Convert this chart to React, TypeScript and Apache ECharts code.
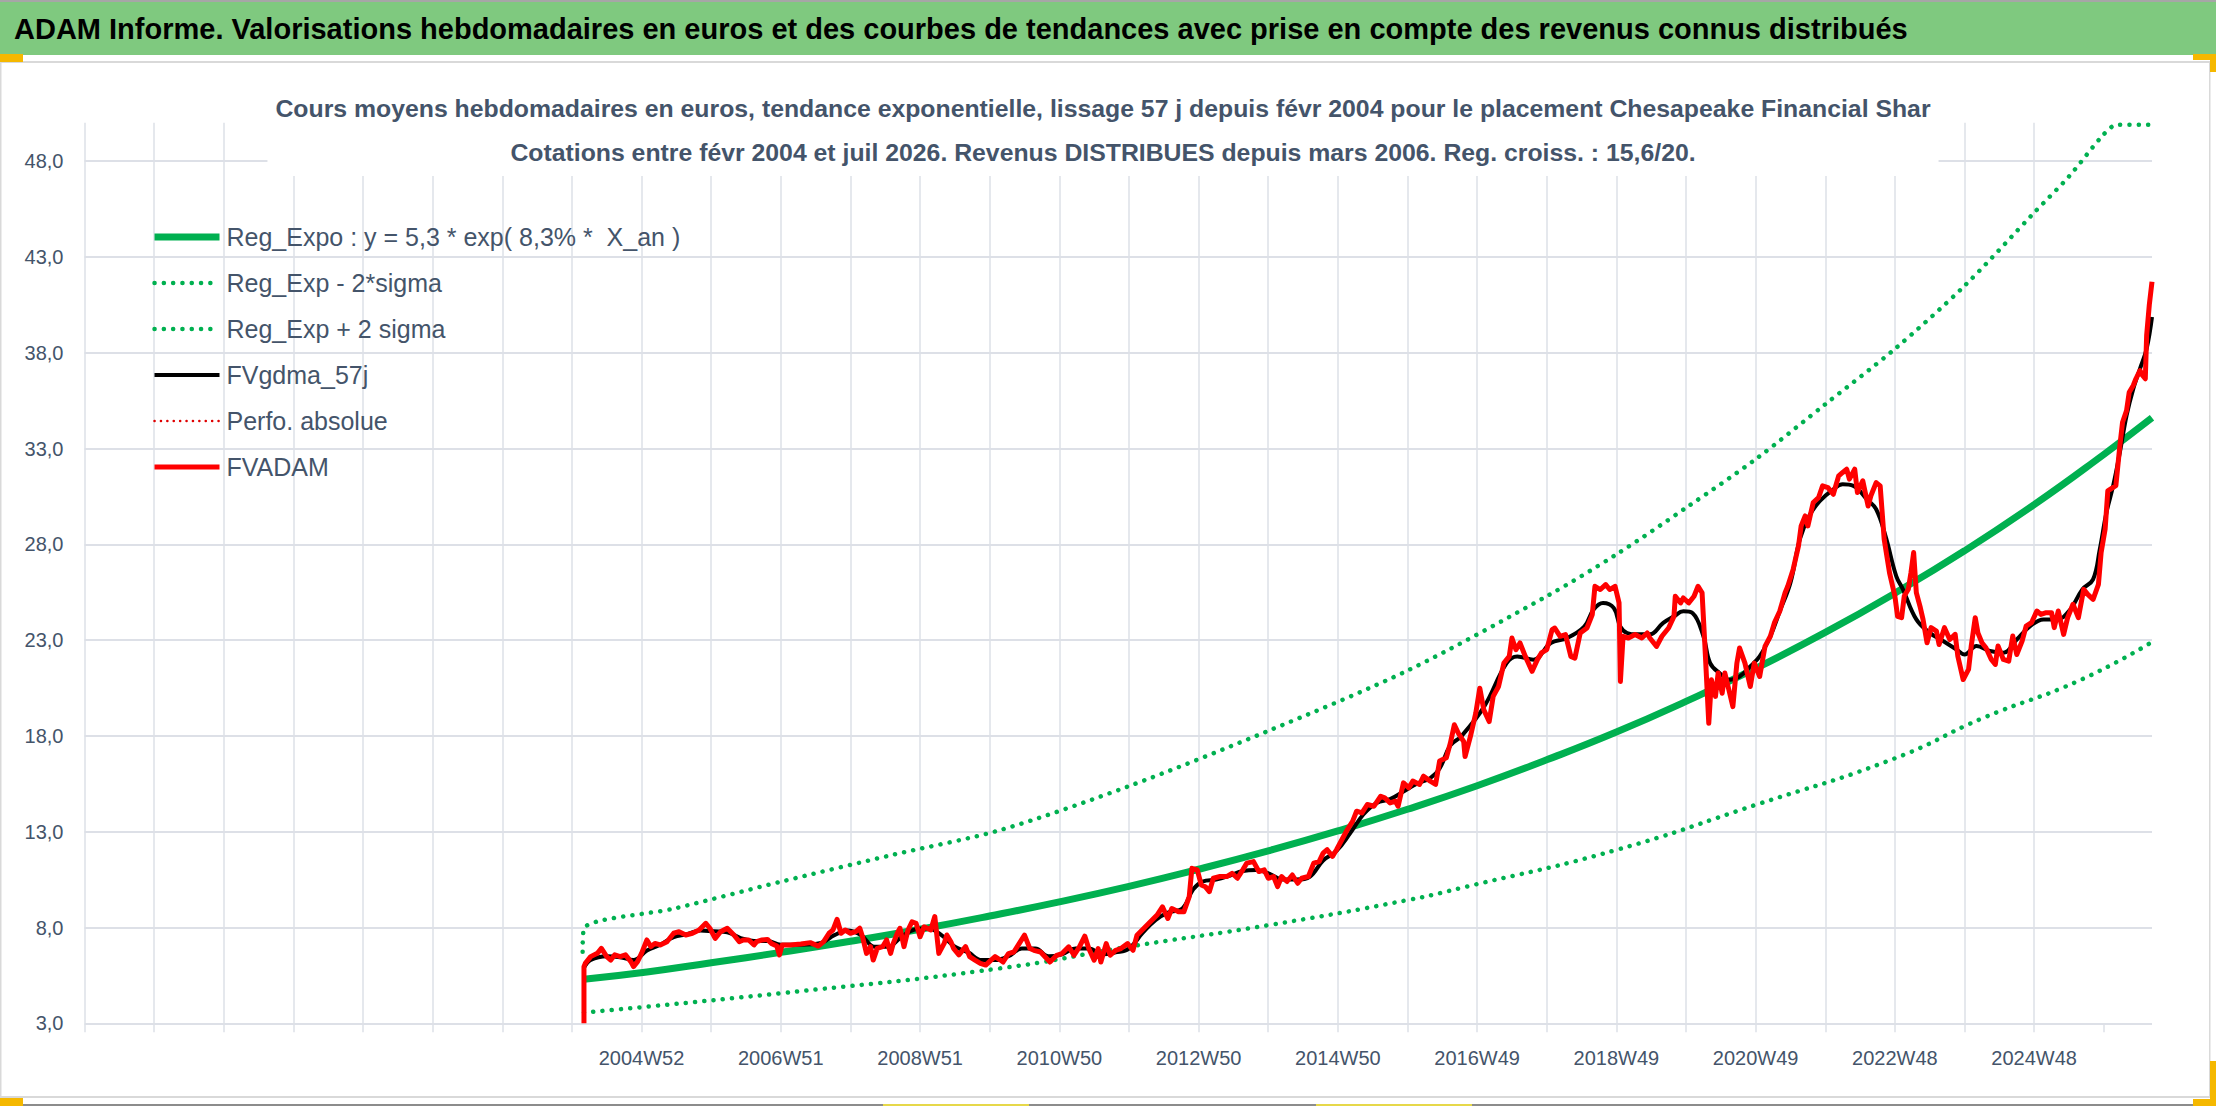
import React, { useEffect, useRef } from 'react'
import * as echarts from 'echarts'

// x = index of the week on the category scale (one grid step = 52 weeks)
const xTickLabels = ['2004W52', '2006W51', '2008W51', '2010W50', '2012W50', '2014W50', '2016W49', '2018W49', '2020W49', '2022W48', '2024W48']
const xLabelWeeks = xTickLabels.map((_, i) => 416 + i * 104)
const xTickWeeks = Array.from({ length: 30 }, (_, i) => i * 52)
const yTicks = [3, 8, 13, 18, 23, 28, 33, 38, 43, 48]

const legendNames = [
  'Reg_Expo : y = 5,3 * exp( 8,3% *  X_an )',
  'Reg_Exp - 2*sigma',
  'Reg_Exp + 2 sigma',
  'FVgdma_57j',
  'Perfo. absolue',
  'FVADAM'
]

const regExpo: [number, number][] = [
  [373, 5.3], [420, 5.68], [468, 6.16], [520, 6.7], [572, 7.28], [624, 7.91], [676, 8.6],
  [728, 9.34], [780, 10.15], [832, 11.04], [884, 12.0], [936, 13.04], [988, 14.17], [1040, 15.4],
  [1092, 16.75], [1144, 18.2], [1196, 19.8], [1248, 21.52], [1300, 23.4], [1352, 25.45],
  [1404, 27.66], [1456, 30.07], [1508, 32.69], [1544, 34.6]
]

const regMinus: [number, number][] = [
  [373, 3.56], [520, 4.57], [684, 5.87], [780, 7.0], [884, 8.12], [988, 9.43], [1032, 10.13],
  [1144, 12.05], [1248, 14.4], [1352, 16.83], [1418, 18.94], [1490, 20.9], [1544, 22.9]
]

const regPlus: [number, number][] = [
  [372, 6.74], [373, 7.96], [441, 9.0], [520, 10.39], [604, 11.8], [684, 13.09], [780, 15.38],
  [884, 18.26], [988, 21.41], [1092, 25.29], [1144, 27.47], [1198, 30.0], [1248, 32.44],
  [1300, 35.31], [1352, 38.2], [1404, 41.49], [1456, 45.31], [1482, 47.2], [1508, 49.4], [1518, 49.9], [1544, 49.9]
]

const fvgdma: [number, number][] = [
  [373, 5.9], [378, 6.3], [390, 6.5], [400, 6.45], [410, 6.3], [420, 6.8], [430, 7.1], [440, 7.5],
  [450, 7.65], [460, 7.85], [470, 7.8], [480, 7.75], [490, 7.45], [500, 7.3], [510, 7.3], [520, 7.1],
  [535, 7.1], [550, 7.2], [560, 7.6], [570, 7.85], [580, 7.6], [590, 7.0], [600, 7.0], [610, 7.5],
  [620, 7.9], [630, 7.95], [640, 7.6], [650, 7.0], [660, 6.7], [670, 6.3], [680, 6.3], [690, 6.5],
  [700, 6.9], [710, 6.9], [720, 6.5], [730, 6.6], [740, 6.9], [750, 6.9], [760, 6.6], [770, 6.7],
  [780, 6.9], [790, 7.7], [800, 8.4], [810, 8.8], [820, 9.0], [828, 10.0], [835, 10.4], [845, 10.5],
  [855, 10.7], [865, 10.95], [875, 11.0], [885, 10.8], [895, 10.5], [905, 10.5], [915, 10.65],
  [925, 11.5], [935, 12.0], [945, 12.9], [955, 13.9], [965, 14.5], [975, 14.7], [985, 15.1],
  [995, 15.5], [1005, 15.8], [1012, 16.3], [1020, 17.5], [1028, 17.97], [1045, 19.5], [1062, 21.8],
  [1070, 22.15], [1082, 21.98], [1095, 22.85], [1107, 23.1], [1120, 23.7], [1127, 24.6], [1134, 24.94],
  [1142, 24.68], [1147, 23.7], [1152, 23.37], [1159, 23.3], [1169, 23.3], [1179, 23.9], [1187, 24.24],
  [1194, 24.5], [1201, 24.4], [1209, 23.2], [1214, 21.8], [1221, 21.28], [1229, 20.93], [1236, 21.1],
  [1244, 21.63], [1251, 22.15], [1259, 23.2], [1266, 24.5], [1274, 26.0], [1281, 28.26], [1288, 29.48],
  [1296, 30.26], [1306, 30.87], [1313, 31.13], [1321, 31.05], [1331, 30.35], [1338, 29.83], [1345, 28.43],
  [1353, 26.34], [1358, 25.65], [1368, 24.08], [1378, 23.38], [1388, 22.95], [1398, 22.51], [1404, 22.25],
  [1413, 22.69], [1423, 22.43], [1433, 22.34], [1443, 23.03], [1453, 23.73], [1463, 24.08], [1473, 24.08],
  [1483, 24.6], [1492, 25.65], [1500, 26.17], [1505, 27.74], [1510, 29.66], [1515, 31.06], [1520, 32.8],
  [1525, 34.72], [1530, 36.11], [1535, 37.16], [1540, 38.21], [1544, 39.86]
]

const fvadam: [number, number][] = [
  [373, 3.0], [373, 5.96], [374, 6.13], [378, 6.48], [383, 6.65], [386, 6.91], [390, 6.48], [393, 6.3],
  [396, 6.57], [400, 6.48], [404, 6.57], [408, 6.22], [410, 5.96], [413, 6.22], [416, 6.65], [420, 7.35],
  [423, 7.0], [426, 7.17], [430, 7.09], [435, 7.26], [440, 7.7], [444, 7.78], [449, 7.61], [454, 7.7],
  [459, 7.87], [464, 8.22], [467, 7.96], [471, 7.43], [475, 7.78], [480, 7.96], [485, 7.61], [489, 7.26],
  [492, 7.35], [496, 7.35], [500, 7.09], [502, 7.26], [506, 7.35], [510, 7.38], [513, 7.17], [517, 7.03],
  [519, 6.57], [521, 7.09], [527, 7.09], [535, 7.14], [542, 7.21], [548, 7.03], [552, 7.26], [556, 7.7],
  [559, 7.87], [562, 8.43], [565, 7.7], [568, 7.87], [572, 7.7], [576, 7.78], [579, 7.96], [581, 7.52],
  [584, 6.65], [587, 7.0], [589, 6.3], [592, 6.91], [596, 7.0], [599, 7.35], [602, 6.65], [604, 7.17],
  [607, 7.7], [609, 7.96], [612, 7.0], [615, 7.87], [618, 8.3], [621, 8.22], [624, 7.52], [627, 8.04],
  [632, 7.87], [635, 8.57], [638, 6.65], [642, 7.17], [644, 7.61], [647, 7.26], [649, 6.91], [653, 6.57],
  [658, 7.0], [661, 6.48], [665, 6.3], [669, 6.13], [673, 6.04], [677, 6.3], [680, 6.48], [684, 6.3],
  [686, 6.2], [690, 6.64], [694, 6.72], [698, 7.16], [702, 7.6], [706, 6.9], [709, 6.81], [714, 6.72],
  [721, 6.2], [726, 6.55], [730, 6.64], [735, 6.99], [739, 6.55], [743, 6.99], [747, 7.55], [750, 6.9],
  [754, 6.29], [757, 6.9], [759, 6.2], [763, 7.16], [766, 6.55], [770, 6.81], [774, 6.9], [779, 7.16],
  [783, 6.81], [786, 7.6], [791, 7.95], [796, 8.3], [801, 8.65], [805, 9.08], [809, 8.47], [812, 8.99],
  [817, 8.82], [821, 8.82], [825, 9.61], [827, 11.09], [831, 11.01], [834, 10.22], [837, 10.13],
  [840, 9.87], [843, 10.57], [848, 10.66], [853, 10.66], [857, 10.83], [861, 10.57], [865, 11.01],
  [868, 11.36], [873, 11.44], [877, 10.92], [881, 11.01], [884, 10.57], [888, 10.66], [891, 10.13],
  [894, 10.66], [898, 10.4], [902, 10.74], [906, 10.31], [909, 10.57], [914, 10.66], [918, 11.36],
  [922, 11.44], [925, 11.88], [928, 12.06], [932, 11.71], [935, 12.06], [939, 12.58], [943, 13.1],
  [947, 13.54], [950, 14.07], [954, 13.98], [958, 14.42], [963, 14.33], [968, 14.85], [971, 14.77],
  [975, 14.5], [979, 14.59], [981, 14.33], [985, 15.55], [989, 15.29], [992, 15.64], [997, 15.47],
  [1000, 15.9], [1005, 15.64], [1009, 15.47], [1012, 16.69], [1017, 16.86], [1020, 17.62], [1023, 18.58],
  [1026, 18.14], [1030, 17.7], [1031, 16.92], [1035, 17.97], [1039, 19.19], [1042, 20.49], [1045, 19.36],
  [1049, 18.75], [1052, 20.06], [1056, 20.58], [1060, 21.8], [1064, 22.15], [1066, 23.11], [1069, 22.5],
  [1072, 22.85], [1076, 22.15], [1081, 21.37], [1085, 21.98], [1088, 22.33], [1092, 22.5], [1096, 23.55],
  [1098, 23.63], [1102, 23.2], [1106, 23.29], [1110, 22.15], [1113, 22.06], [1117, 23.37], [1122, 23.63],
  [1126, 24.33], [1128, 25.81], [1132, 25.64], [1136, 25.9], [1139, 25.64], [1143, 25.81], [1146, 24.94],
  [1147, 20.84], [1149, 23.2], [1153, 23.11], [1158, 23.29], [1163, 23.11], [1167, 23.37], [1169, 23.11],
  [1174, 22.67], [1178, 23.2], [1183, 23.63], [1187, 24.24], [1188, 25.29], [1192, 24.94], [1194, 25.2],
  [1198, 24.94], [1202, 25.29], [1205, 25.81], [1208, 25.47], [1210, 22.85], [1213, 18.66], [1215, 20.93],
  [1218, 20.06], [1220, 21.28], [1223, 20.23], [1225, 21.28], [1228, 20.41], [1231, 19.53], [1234, 21.8],
  [1236, 22.59], [1240, 21.8], [1244, 20.58], [1247, 21.8], [1251, 21.1], [1255, 22.67], [1259, 23.2],
  [1262, 23.9], [1266, 24.51], [1270, 25.47], [1272, 25.81], [1276, 26.69], [1280, 27.91], [1282, 28.96],
  [1285, 29.48], [1287, 28.96], [1291, 30.18], [1295, 30.44], [1298, 31.05], [1302, 30.96], [1306, 30.61],
  [1310, 31.57], [1313, 31.75], [1316, 31.92], [1318, 31.4], [1322, 31.92], [1324, 30.7], [1328, 31.31],
  [1332, 30.0], [1334, 30.52], [1338, 31.22], [1341, 31.05], [1344, 28.26], [1348, 26.51], [1352, 25.29],
  [1354, 24.24], [1357, 24.17], [1359, 25.3], [1362, 25.65], [1364, 26.52], [1366, 27.57], [1368, 25.48],
  [1371, 24.69], [1373, 24.08], [1376, 22.86], [1379, 23.65], [1383, 23.47], [1385, 22.77], [1389, 23.65],
  [1393, 23.03], [1397, 23.3], [1399, 22.16], [1403, 20.94], [1407, 21.47], [1409, 22.69], [1412, 24.17],
  [1414, 23.38], [1417, 22.86], [1420, 22.6], [1424, 21.99], [1427, 21.73], [1429, 22.69], [1433, 21.99],
  [1437, 21.9], [1440, 23.21], [1443, 22.25], [1447, 22.95], [1450, 23.73], [1454, 23.91], [1458, 24.52],
  [1461, 24.34], [1465, 24.43], [1469, 24.43], [1471, 23.65], [1474, 24.52], [1478, 23.3], [1481, 24.17],
  [1485, 24.87], [1489, 24.17], [1493, 25.65], [1496, 25.39], [1500, 25.13], [1504, 25.91], [1506, 27.57],
  [1509, 28.79], [1511, 30.79], [1515, 30.97], [1517, 31.06], [1520, 33.15], [1522, 34.37], [1525, 34.98],
  [1527, 35.94], [1530, 36.29], [1532, 36.64], [1535, 37.07], [1537, 36.81], [1539, 36.64], [1540, 38.9],
  [1542, 40.5], [1544, 41.7]
]

const headerText = 'ADAM Informe. Valorisations hebdomadaires en euros et des courbes de tendances avec prise en compte des revenus connus distribués'
const titleLine1 = 'Cours moyens hebdomadaires en euros, tendance exponentielle, lissage 57 j depuis févr 2004 pour le placement Chesapeake Financial Shar'
const titleLine2 = 'Cotations entre févr 2004 et juil 2026. Revenus DISTRIBUES depuis mars 2006. Reg. croiss. : 15,6/20.'

const FONT = '"Liberation Sans", Arial, sans-serif'
const TEXT = '#44546a'
const GRID = '#dde0e7'
const GREEN = '#00b050'
const RED = '#ff0000'

const App: React.FC = () => {
  const chartRef = useRef<HTMLDivElement>(null)

  useEffect(() => {
    if (!chartRef.current) return
    const chart = echarts.init(chartRef.current, undefined, { renderer: 'svg' })

    const option = {
      animation: false,
      backgroundColor: '#ffffff',
      textStyle: { fontFamily: FONT },
      title: {
        text: titleLine1 + '\n' + titleLine2,
        left: 1095,
        top: 64,
        padding: [22, 8, 2, 8],
        backgroundColor: '#ffffff',
        textAlign: 'center',
        textStyle: { color: TEXT, fontSize: 24.8, fontWeight: 'bold', lineHeight: 44, fontFamily: FONT }
      },
      legend: {
        orient: 'vertical',
        left: 151,
        top: 222,
        padding: 0,
        itemWidth: 65,
        itemHeight: 14,
        itemGap: 16,
        selectedMode: false,
        data: legendNames,
        itemStyle: { opacity: 0 },
        lineStyle: { width: 'inherit' },
        textStyle: { color: TEXT, fontSize: 25, lineHeight: 30, fontFamily: FONT, padding: [0, 0, 0, 2] }
      },
      grid: {
        left: 84.5,
        right: 64,
        top: 122.8,
        bottom: 82.7,
        containLabel: false,
        outerBoundsMode: 'none'
      },
      xAxis: {
        type: 'value',
        min: 0,
        max: 1544,
        interval: 52,
        axisLine: { show: false },
        axisTick: {
          show: true,
          length: 9,
          customValues: xTickWeeks,
          lineStyle: { color: GRID, width: 1.5 }
        },
        axisLabel: {
          customValues: xLabelWeeks,
          margin: 25,
          color: TEXT,
          fontSize: 20,
          fontFamily: FONT,
          formatter: (v: number) => {
            const i = xLabelWeeks.indexOf(v)
            return i >= 0 ? xTickLabels[i] : ''
          }
        },
        splitLine: {
          show: true,
          showMinLine: true,
          showMaxLine: false,
          lineStyle: { color: GRID, width: 1.5 }
        }
      },
      yAxis: {
        type: 'value',
        min: 3,
        max: 50,
        interval: 5,
        axisLine: { show: false },
        axisTick: { show: false },
        axisLabel: {
          customValues: yTicks,
          margin: 21,
          color: TEXT,
          fontSize: 20,
          fontFamily: FONT,
          formatter: (v: number) => (v > 49 ? '' : v.toFixed(1).replace('.', ','))
        },
        splitLine: {
          show: true,
          showMaxLine: false,
          lineStyle: { color: GRID, width: 2 }
        }
      },
      series: [
        {
          name: legendNames[0],
          type: 'line',
          data: regExpo,
          smooth: true,
          symbol: 'none',
          lineStyle: { color: GREEN, width: 7 }
        },
        {
          name: legendNames[1],
          type: 'line',
          data: regMinus,
          smooth: true,
          symbol: 'none',
          lineStyle: { color: GREEN, width: 4.5, type: [0.1, 9.2], cap: 'round' }
        },
        {
          name: legendNames[2],
          type: 'line',
          data: regPlus,
          smooth: 0.3,
          symbol: 'none',
          lineStyle: { color: GREEN, width: 4.5, type: [0.1, 9.2], cap: 'round' }
        },
        {
          name: legendNames[3],
          type: 'line',
          data: fvgdma,
          smooth: 0.4,
          symbol: 'none',
          lineStyle: { color: '#000000', width: 4 }
        },
        {
          name: legendNames[4],
          type: 'line',
          data: [],
          symbol: 'none',
          lineStyle: { color: '#e00000', width: 2.5, type: [0.1, 6.3], cap: 'round' }
        },
        {
          name: legendNames[5],
          type: 'line',
          data: fvadam,
          symbol: 'none',
          lineStyle: { color: RED, width: 5, join: 'round' }
        }
      ],
      graphic: [
        { type: 'rect', z: -10, shape: { x: 0, y: 0, width: 2216, height: 2 }, style: { fill: '#a6a6a6' } },
        { type: 'rect', z: -10, shape: { x: 0, y: 2, width: 2216, height: 53 }, style: { fill: '#7fc97f' } },
        {
          type: 'text',
          x: 14,
          y: 29,
          style: {
            text: headerText,
            fill: '#000000',
            font: 'bold 29px "Liberation Sans", Arial, sans-serif',
            textVerticalAlign: 'middle'
          }
        },
        // chart frame
        { type: 'rect', z: -10, shape: { x: 0, y: 61, width: 2210, height: 2 }, style: { fill: '#d9d9d9' } },
        { type: 'rect', z: -10, shape: { x: 0, y: 1096, width: 2210, height: 2 }, style: { fill: '#d9d9d9' } },
        { type: 'rect', z: -10, shape: { x: 0, y: 61, width: 1.5, height: 1037 }, style: { fill: '#d9d9d9' } },
        { type: 'rect', z: -10, shape: { x: 2209, y: 61, width: 1.5, height: 1037 }, style: { fill: '#d9d9d9' } },
        { type: 'rect', z: -10, shape: { x: 0, y: 1104, width: 2216, height: 2 }, style: { fill: '#8c8c8c' } },
        // selection handles
        { type: 'rect', z: -9, shape: { x: 0, y: 54, width: 23, height: 8 }, style: { fill: '#f5b800' } },
        { type: 'rect', z: -9, shape: { x: 2193, y: 54, width: 23, height: 6 }, style: { fill: '#f5b800' } },
        { type: 'rect', z: -9, shape: { x: 2210, y: 54, width: 6, height: 18 }, style: { fill: '#f5b800' } },
        { type: 'rect', z: -9, shape: { x: 2210, y: 1061, width: 6, height: 45 }, style: { fill: '#f5b800' } },
        { type: 'rect', z: -9, shape: { x: 2193, y: 1099, width: 23, height: 7 }, style: { fill: '#f5b800' } },
        { type: 'rect', z: -9, shape: { x: 0, y: 1098, width: 23, height: 8 }, style: { fill: '#f5b800' } },
        { type: 'rect', z: -9, shape: { x: 883, y: 1104, width: 146, height: 2 }, style: { fill: '#e6d84a' } },
        { type: 'rect', z: -9, shape: { x: 1316, y: 1104, width: 156, height: 2 }, style: { fill: '#e6d84a' } }
      ]
    }

    chart.setOption(option)
    return () => {
      chart.dispose()
    }
  }, [])

  return (
    <div
      ref={chartRef}
      style={{ position: 'absolute', left: 0, top: 0, width: 2216, height: 1106, background: '#ffffff' }}
    />
  )
}

export default App
